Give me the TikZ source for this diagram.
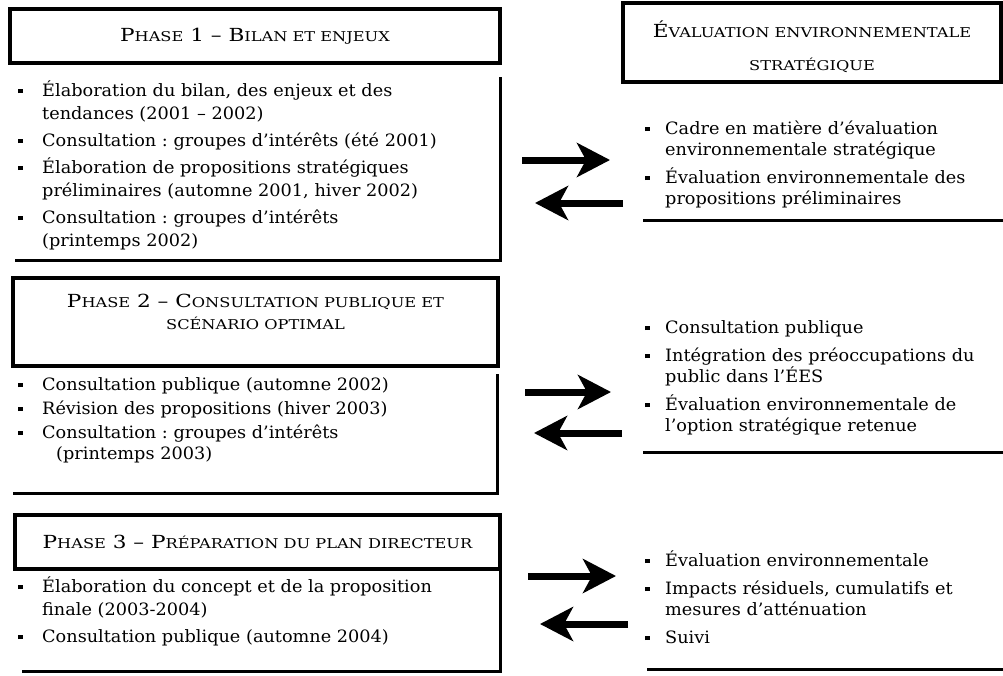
\documentclass[tikz,border=0pt]{standalone}
\usepackage{fontspec}
\setmainfont{DejaVu Serif}[FakeStretch=1.04]
\newfontfamily\hfont{DejaVu Serif}[FakeStretch=1.2]
\usetikzlibrary{arrows.meta}

\newcommand{\bul}{\raisebox{3pt}{\rule{4.5pt}{4.5pt}}}
\newcommand{\itm}[2][24pt]{\par\hangindent=#1\hangafter=1\noindent\rule{0pt}{17pt}\makebox[#1][l]{\bul}#2\par}
\newcommand{\smc}[1]{{\fontsize{13.5}{16}\selectfont #1}}

\begin{document}
\begin{tikzpicture}[
    x=1pt, y=-1pt,
    headbox/.style={draw, line width=4pt, inner sep=0pt},
    headtext/.style={align=center, inner sep=0pt, font=\hfont\fontsize{18}{22}\selectfont},
    items/.style={anchor=north west, inner sep=0pt, text width=#1,
        font={\fontsize{17}{23}\selectfont\frenchspacing\setlength{\parskip}{4pt}}},
    ritems/.style={items=#1, font={\fontsize{17}{21}\selectfont\frenchspacing\setlength{\parskip}{7pt}}},
    frame/.style={line width=3pt},
    bigarrow/.style={line width=7pt, -{Stealth[length=33pt, width=34pt, inset=9pt, sep=12pt]}}
]
    \useasboundingbox (0,0) rectangle (1003,675);

    % Phase 1
    \node[headbox, minimum width=490pt, minimum height=54pt] (ph1) at (255,36) {};
    \node[headtext] at (ph1.center) {P\smc{HASE} 1 – B\smc{ILAN ET ENJEUX}};
    \node[items=475pt] (ph1items) at (18,69) {%
        \itm{Élaboration du bilan, des enjeux et des\newline tendances (2001 – 2002)}
        \itm{Consultation : groupes d’intérêts (été 2001)}
        \itm{Élaboration de propositions stratégiques\newline préliminaires (automne 2001, hiver 2002)}
        \itm{Consultation : groupes d’intérêts\newline (printemps 2002)}};
    \draw[frame] (15,260) -| (500,77);

    % Evaluation environnementale strategique
    \node[headbox, line width=3.5pt, minimum width=378pt, minimum height=79pt] (ees) at (812,42.5) {};
    \node[headtext] at ([yshift=-4pt]ees.center)
        {É\smc{VALUATION ENVIRONNEMENTALE}\\[11pt] \smc{STRATÉGIQUE}};
    \node[ritems=350pt] (ees1) at (645,106) {%
        \itm[20pt]{Cadre en matière d’évaluation\newline environnementale stratégique}
        \itm[20pt]{Évaluation environnementale des\newline propositions préliminaires}};
    \draw[frame] (643,220) -- (1003,220);

    % arrows 1
    \coordinate (a1s) at (522,160);
    \coordinate (a1t) at (622,160);
    \coordinate (b1s) at (623,203);
    \coordinate (b1t) at (523,203);
    \draw[bigarrow] (a1s) -- (a1t);
    \draw[bigarrow] (b1s) -- (b1t);

    % Phase 2
    \node[headbox, minimum width=485pt, minimum height=88pt] (ph2) at (255.5,322) {};
    \node[headtext] at ([yshift=10pt]ph2.center)
        {P\smc{HASE} 2 – C\smc{ONSULTATION PUBLIQUE ET}\\ \smc{SCÉNARIO OPTIMAL}};
    \node[items=475pt, font={\fontsize{17}{21}\selectfont\frenchspacing\setlength{\parskip}{3pt}}]
        (ph2items) at (18,366) {%
        \itm{Consultation publique (automne 2002)}
        \itm{Révision des propositions (hiver 2003)}
        \itm{Consultation : groupes d’intérêts\newline \hspace*{14pt}(printemps 2003)}};
    \draw[frame] (13,493) -| (497,374);

    \node[ritems=350pt] (ees2) at (645,305) {%
        \itm[20pt]{Consultation publique}
        \itm[20pt]{Intégration des préoccupations du\newline public dans l’ÉES}
        \itm[20pt]{Évaluation environnementale de\newline l’option stratégique retenue}};
    \draw[frame] (643,452) -- (1003,452);

    % arrows 2
    \coordinate (a2s) at (525,392);
    \coordinate (a2t) at (623,392);
    \coordinate (b2s) at (622,433);
    \coordinate (b2t) at (522,433);
    \draw[bigarrow] (a2s) -- (a2t);
    \draw[bigarrow] (b2s) -- (b2t);

    % Phase 3
    \node[headbox, minimum width=485pt, minimum height=54pt] (ph3) at (257.5,542) {};
    \node[headtext] at (ph3.center) {P\smc{HASE} 3 – P\smc{RÉPARATION DU PLAN DIRECTEUR}};
    \node[items=475pt] (ph3items) at (18,565) {%
        \itm{Élaboration du concept et de la proposition\newline finale (2003-2004)}
        \itm{Consultation publique (automne 2004)}};
    \draw[frame] (22,671) -| (500,570);

    \node[ritems=350pt] (ees3) at (645,538) {%
        \itm[20pt]{Évaluation environnementale}
        \itm[20pt]{Impacts résiduels, cumulatifs et\newline mesures d’atténuation}
        \itm[20pt]{Suivi}};
    \draw[frame] (647,669) -- (1003,669);

    % arrows 3
    \coordinate (a3s) at (528,576);
    \coordinate (a3t) at (628,576);
    \coordinate (b3s) at (628,624);
    \coordinate (b3t) at (528,624);
    \draw[bigarrow] (a3s) -- (a3t);
    \draw[bigarrow] (b3s) -- (b3t);
\end{tikzpicture}
\end{document}
